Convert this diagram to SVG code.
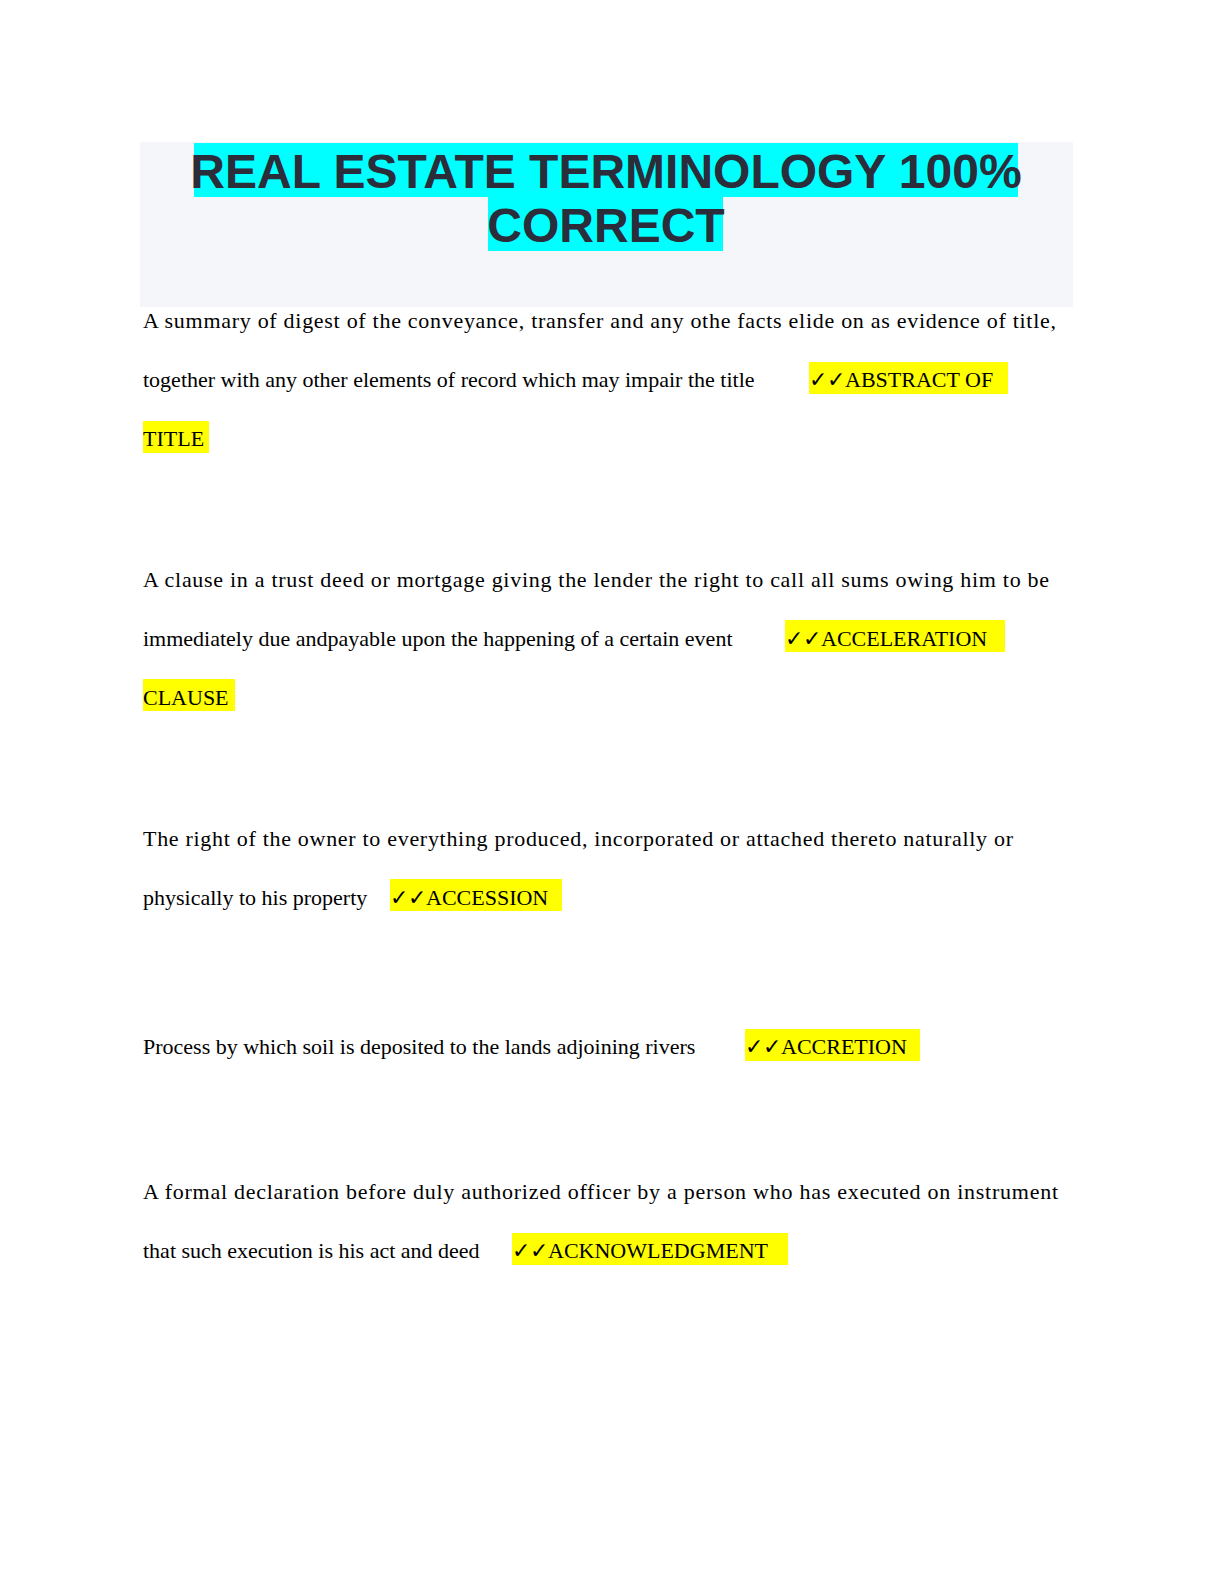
<svg xmlns="http://www.w3.org/2000/svg" width="1224" height="1584" viewBox="0 0 1224 1584">
<style>
.t{font-family:"Liberation Sans",Arial,sans-serif;font-weight:bold;font-size:48px;fill:#2b2d3a;text-anchor:middle}
.b{font-family:"Liberation Serif","DejaVu Serif",serif;font-size:22px;fill:#000}
.hl{fill:#ffff00}
.cy{fill:#00ffff}
</style>
<rect x="0" y="0" width="1224" height="1584" fill="#fff"/>
<rect x="140" y="142" width="933" height="165" fill="#f5f6fa"/>
<rect class="cy" x="194" y="143" width="824" height="54"/>
<rect class="cy" x="488" y="197" width="235" height="54"/>
<text class="t" x="606" y="188">REAL ESTATE TERMINOLOGY 100%</text>
<text class="t" x="606" y="242">CORRECT</text>
<rect class="hl" x="809" y="362" width="199" height="32"/>
<rect class="hl" x="143" y="421" width="66" height="32"/>
<rect class="hl" x="785" y="620" width="220" height="32"/>
<rect class="hl" x="143" y="679" width="92" height="32"/>
<rect class="hl" x="390" y="879" width="172" height="32"/>
<rect class="hl" x="745" y="1029" width="175" height="32"/>
<rect class="hl" x="512" y="1233" width="276" height="32"/>
<text class="b" x="143" y="328" textLength="913">A summary of digest of the conveyance, transfer and any othe facts elide on as evidence of title,</text>
<text class="b" x="143" y="387">together with any other elements of record which may impair the title <tspan x="809">✓✓ABSTRACT OF</tspan></text>
<text class="b" x="143" y="446">TITLE</text>
<text class="b" x="143" y="587" textLength="906">A clause in a trust deed or mortgage giving the lender the right to call all sums owing him to be</text>
<text class="b" x="143" y="646">immediately due andpayable upon the happening of a certain event <tspan x="785">✓✓ACCELERATION</tspan></text>
<text class="b" x="143" y="705">CLAUSE</text>
<text class="b" x="143" y="846" textLength="870">The right of the owner to everything produced, incorporated or attached thereto naturally or</text>
<text class="b" x="143" y="905">physically to his property <tspan x="390">✓✓ACCESSION</tspan></text>
<text class="b" x="143" y="1054">Process by which soil is deposited to the lands adjoining rivers <tspan x="745">✓✓ACCRETION</tspan></text>
<text class="b" x="143" y="1199" textLength="915">A formal declaration before duly authorized officer by a person who has executed on instrument</text>
<text class="b" x="143" y="1258">that such execution is his act and deed <tspan x="512">✓✓ACKNOWLEDGMENT</tspan></text>
</svg>
